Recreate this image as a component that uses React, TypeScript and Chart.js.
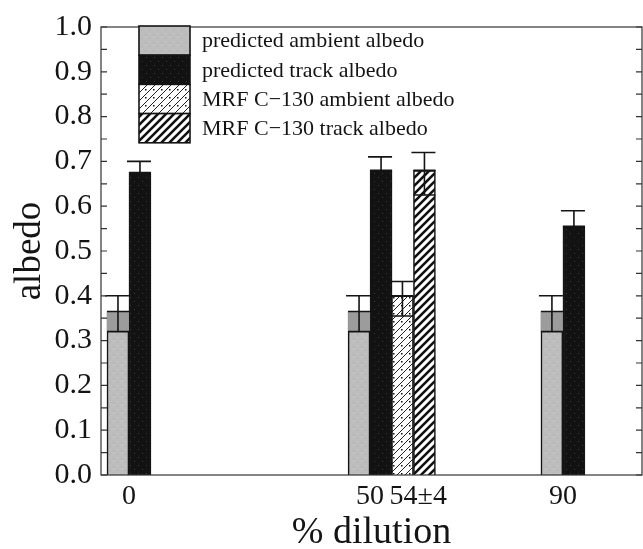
import React, { useEffect, useRef } from "react";
import { Chart, registerables } from "chart.js";
Chart.register(...registerables);

// ---- data ----
const dilutionPositions = [0, 50, 59, 90];
const dilutionTickPositions = [0, 50, 60, 90];
const dilutionLabels = ["0", "50", "54±4", "90"];
const seriesLabels = [
  "predicted ambient albedo",
  "predicted track albedo",
  "MRF C\u2212130 ambient albedo",
  "MRF C\u2212130 track albedo",
];
const predictedAmbient = [0.365, 0.365, null, 0.365];
const predictedAmbientLow = [0.32, 0.32, null, 0.32];
const predictedAmbientHigh = [0.4, 0.4, null, 0.4];
const predictedTrack = [0.675, 0.68, null, 0.555];
const predictedTrackLow = [0.65, 0.65, null, 0.52];
const predictedTrackHigh = [0.7, 0.71, null, 0.59];
const mrfAmbient = [null, null, 0.4, null];
const mrfAmbientLow = [null, null, 0.355, null];
const mrfAmbientHigh = [null, null, 0.432, null];
const mrfTrack = [null, null, 0.68, null];
const mrfTrackLow = [null, null, 0.625, null];
const mrfTrackHigh = [null, null, 0.72, null];
const yMin = 0;
const yMax = 1;
const yStep = 0.1;
const yMinorStep = 0.05;
const xMin = -5.8;
const xMax = 106.4;

const FONT = "'Liberation Serif', 'Times New Roman', Times, serif";
const INK = "#141414";

function makePattern(kind: string): CanvasPattern | string {
  const c = document.createElement("canvas");
  const s = 8;
  c.width = s;
  c.height = s;
  const g = c.getContext("2d");
  if (!g) return "#bbb";
  if (kind === "gray") {
    g.fillStyle = "#bdbdbd";
    g.fillRect(0, 0, s, s);
    g.fillStyle = "#acacac";
    g.fillRect(1, 2, 1, 1);
    g.fillRect(5, 6, 1, 1);
    g.fillStyle = "#cacaca";
    g.fillRect(5, 1, 1, 1);
    g.fillRect(2, 5, 1, 1);
  } else if (kind === "black") {
    g.fillStyle = "#121212";
    g.fillRect(0, 0, s, s);
    g.fillStyle = "#3a3a3a";
    g.fillRect(2, 1, 1, 1);
    g.fillRect(6, 5, 1, 1);
  } else if (kind === "thin") {
    g.fillStyle = "#ffffff";
    g.fillRect(0, 0, s, s);
    g.strokeStyle = "#222";
    g.lineWidth = 1;
    g.beginPath();
    g.moveTo(-1, s + 1);
    g.lineTo(s + 1, -1);
    g.moveTo(-1, 1);
    g.lineTo(1, -1);
    g.moveTo(s - 1, s + 1);
    g.lineTo(s + 1, s - 1);
    g.stroke();
    g.fillStyle = "#111";
    g.fillRect(1, 1, 1.5, 1.5);
  } else {
    g.fillStyle = "#ffffff";
    g.fillRect(0, 0, s, s);
    g.strokeStyle = "#111";
    g.lineWidth = 2.6;
    g.beginPath();
    g.moveTo(-1, s + 1);
    g.lineTo(s + 1, -1);
    g.moveTo(-1, 1);
    g.lineTo(1, -1);
    g.moveTo(s - 1, s + 1);
    g.lineTo(s + 1, s - 1);
    g.stroke();
  }
  const p = g.createPattern(c, "repeat");
  return p || "#bbb";
}

const errorBarPlugin = {
  id: "errorBars",
  afterDatasetsDraw(chart: any) {
    const ctx = chart.ctx;
    const ys = chart.scales.y;
    chart.data.datasets.forEach((ds: any, di: number) => {
      const meta = chart.getDatasetMeta(di);
      meta.data.forEach((el: any, i: number) => {
        const v = ds.data[i]?.y;
        if (v === null || v === undefined) return;
        const lo = ds.errLow[i];
        const hi = ds.errHigh[i];
        const x = el.x;
        const w = el.width;
        const pv = ys.getPixelForValue(v);
        const pl = ys.getPixelForValue(lo);
        const ph = ys.getPixelForValue(hi);
        ctx.save();
        if (ds.errShade) {
          ctx.fillStyle = ds.errShade;
          ctx.fillRect(x - w / 2, pv, w, pl - pv);
        }
        ctx.strokeStyle = INK;
        ctx.lineWidth = 1.6;
        ctx.beginPath();
        ctx.moveTo(x - w / 2, pl);
        ctx.lineTo(x + w / 2, pl);
        ctx.moveTo(x - w / 2, pv);
        ctx.lineTo(x + w / 2, pv);
        ctx.moveTo(x, pl);
        ctx.lineTo(x, ph);
        ctx.moveTo(x - w / 2 - 2, ph);
        ctx.lineTo(x + w / 2, ph);
        ctx.stroke();
        ctx.restore();
      });
    });
  },
};

const framePlugin = {
  id: "frame",
  afterDraw(chart: any) {
    const { ctx, chartArea: a } = chart;
    const ys = chart.scales.y;
    ctx.save();
    ctx.strokeStyle = "#333";
    ctx.lineWidth = 1.2;
    ctx.strokeRect(a.left, a.top, a.right - a.left, a.bottom - a.top);
    ctx.beginPath();
    const n = Math.round((yMax - yMin) / yMinorStep);
    for (let k = 0; k <= n; k++) {
      const py = ys.getPixelForValue(yMin + k * yMinorStep);
      ctx.moveTo(a.left, py);
      ctx.lineTo(a.left + 6, py);
      ctx.moveTo(a.right, py);
      ctx.lineTo(a.right - 6, py);
    }
    ctx.stroke();

    // legend
    const lx = 139;
    const ly = 26;
    const bw = 51;
    const rh = 29.2;
    ctx.font = `22px ${FONT}`;
    ctx.textBaseline = "middle";
    ctx.textAlign = "left";
    chart.data.datasets.forEach((ds: any, i: number) => {
      const y0 = ly + i * rh;
      ctx.fillStyle = ds.backgroundColor;
      ctx.fillRect(lx, y0, bw, rh);
      ctx.strokeStyle = INK;
      ctx.lineWidth = 1.6;
      ctx.strokeRect(lx, y0, bw, rh);
      ctx.fillStyle = INK;
      ctx.fillText(ds.label, lx + bw + 12, y0 + rh / 2 + 1);
    });
    ctx.restore();
  },
};

export default function App() {
  const ref = useRef<HTMLCanvasElement | null>(null);
  useEffect(() => {
    document.body.style.margin = "0";
    const canvas = ref.current;
    if (!canvas) return;
    const mk = (vals: (number | null)[]) =>
      dilutionPositions.map((x, i) => ({ x, y: vals[i] }));
    const chart = new Chart(canvas, {
      type: "bar",
      data: {
        datasets: [
          {
            label: seriesLabels[0],
            data: mk(predictedAmbient),
            backgroundColor: makePattern("gray"),
            errLow: predictedAmbientLow,
            errHigh: predictedAmbientHigh,
            errShade: "#9c9c9c",
          } as any,
          {
            label: seriesLabels[1],
            data: mk(predictedTrack),
            backgroundColor: makePattern("black"),
            errLow: predictedTrackLow,
            errHigh: predictedTrackHigh,
          } as any,
          {
            label: seriesLabels[2],
            data: mk(mrfAmbient),
            backgroundColor: makePattern("thin"),
            errLow: mrfAmbientLow,
            errHigh: mrfAmbientHigh,
          } as any,
          {
            label: seriesLabels[3],
            data: mk(mrfTrack),
            backgroundColor: makePattern("thick"),
            errLow: mrfTrackLow,
            errHigh: mrfTrackHigh,
          } as any,
        ],
      },
      options: {
        animation: false,
        responsive: false,
        devicePixelRatio: 1,
        layout: { padding: { left: 0, right: 1, top: 22, bottom: 0 } },
        datasets: {
          bar: {
            barThickness: 22,
            grouped: true,
            skipNull: true,
            borderColor: INK,
            borderWidth: 1.6,
          } as any,
        },
        plugins: {
          legend: { display: false },
          tooltip: { enabled: false },
        },
        scales: {
          x: {
            type: "linear",
            min: xMin,
            max: xMax,
            offset: false,
            grid: { display: false, drawTicks: false },
            border: { display: false },
            afterBuildTicks: (scale: any) => {
              scale.ticks = dilutionTickPositions.map((v) => ({ value: v }));
            },
            afterFit: (scale: any) => {
              scale.height = 74;
            },
            ticks: {
              autoSkip: false,
              maxRotation: 0,
              padding: 5,
              color: INK,
              font: { family: FONT, size: 28 },
              callback: (_v: any, i: number) => dilutionLabels[i],
            },
            title: {
              display: true,
              text: "% dilution",
              color: INK,
              font: { family: FONT, size: 38, lineHeight: 1 },
              padding: { top: 0, bottom: -3 },
            },
          },
          y: {
            min: yMin,
            max: yMax,
            grid: { display: false, drawTicks: false },
            border: { display: false },
            afterFit: (scale: any) => {
              scale.width = 101;
            },
            ticks: {
              stepSize: yStep,
              padding: 9,
              color: INK,
              font: { family: FONT, size: 30 },
              callback: (v: any) => Number(v).toFixed(1),
            },
            title: {
              display: true,
              text: "albedo",
              color: INK,
              font: { family: FONT, size: 37, lineHeight: 1 },
              padding: { top: 12, bottom: 0 },
            },
          },
        },
      },
      plugins: [errorBarPlugin, framePlugin],
    } as any);
    return () => chart.destroy();
  }, []);
  return (
    <div style={{ width: 643, height: 549, background: "#fff" }}>
      <canvas ref={ref} width={643} height={549} style={{ display: "block" }} />
    </div>
  );
}
